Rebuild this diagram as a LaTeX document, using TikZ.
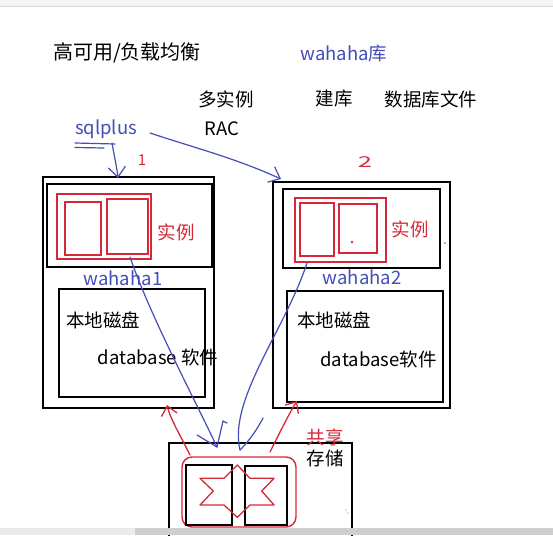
\documentclass[tikz,border=0pt]{standalone}
\usepackage{fontspec}
\setmainfont{Noto Sans CJK SC}
\usetikzlibrary{arrows.meta}
\definecolor{penblue}{RGB}{68,78,185}
\definecolor{penred}{RGB}{214,40,56}
\begin{document}
\begin{tikzpicture}[x=1pt,y=-1pt,
  box/.style={draw=black, line width=1.8pt, inner sep=0pt, outer sep=0pt},
  redbox/.style={draw=penred, line width=1.4pt, inner sep=0pt, outer sep=0pt},
  lbl/.style={inner sep=0pt, font=\fontsize{18.5}{22}\selectfont},
  bluelbl/.style={lbl, text=penblue},
  redlbl/.style={lbl, text=penred},
  blueline/.style={draw=penblue, line width=1.2pt, line cap=round, line join=round},
  redline/.style={draw=penred, line width=1.3pt, line cap=round, line join=round},
  barb/.style={-{Straight Barb[length=10pt,width=17pt,line width=1.2pt]}}
]
\useasboundingbox (0,0) rectangle (553,535);
\fill[white] (0,0) rectangle (553,535);
\fill[black!4] (0,0) rectangle (553,6);
\draw[black!15, line width=0.8pt] (0,6) -- (553,6);

% ---- top texts
\node[lbl, font=\fontsize{20}{24}\selectfont] (ha) at (127,53) {高可用/负载均衡};
\node[bluelbl] (lib) at (344,54) {wahaha库};
\node[lbl] (multi) at (226,99) {多实例};
\node[lbl] (build) at (334,99) {建库};
\node[lbl] (dbfile) at (431,99) {数据库文件};
\node[bluelbl] (sql) at (106,129) {sqlplus};
\node[lbl] (rac) at (222,129) {RAC};
\node[redlbl, font=\fontsize{15}{18}\selectfont] (one) at (142,160) {1};
\node[redlbl, font=\fontsize{15}{18}\selectfont, xscale=1.7, transform shape] (two) at (365,162) {2};

% ---- server 1
\node[box, minimum width=171pt, minimum height=231pt] (srv1) at (128.5,292.5) {};
\node[box, minimum width=165pt, minimum height=83pt] (top1) at (129.5,225.5) {};
\node[redbox, minimum width=94pt, minimum height=65pt] (inst1) at (104,226.5) {};
\node[redbox, minimum width=36pt, minimum height=53pt] (inst1a) at (83,228.5) {};
\node[redbox, minimum width=41pt, minimum height=55pt] (inst1b) at (127.5,226.5) {};
\node[redlbl] (inst1l) at (176,232) {实例};
\node[bluelbl] (wa1) at (123,278) {wahaha1};
\node[box, minimum width=146pt, minimum height=108pt] (disk1) at (132,343) {};
\node[lbl] (disk1l) at (103,320) {本地磁盘};
\node[lbl] (soft1) at (158,357) {database 软件};

% ---- server 2
\node[box, minimum width=177pt, minimum height=226pt] (srv2) at (361.5,295) {};
\node[box, minimum width=157pt, minimum height=79pt] (top2) at (361.5,228.5) {};
\node[redbox, minimum width=91pt, minimum height=64pt] (inst2) at (340.5,230) {};
\node[redbox, minimum width=34pt, minimum height=53pt] (inst2a) at (317,229.5) {};
\node[redbox, minimum width=38pt, minimum height=49pt] (inst2b) at (358,228.5) {};
\fill[penred] (352,242) circle (1.3pt);
\fill[penred] (445,243) circle (0.8pt);
\node[redlbl] (inst2l) at (410,229) {实例};
\node[bluelbl] (wa2) at (362,277) {wahaha2};
\node[box, minimum width=156pt, minimum height=111pt] (disk2) at (365,346.5) {};
\node[lbl] (disk2l) at (334,320) {本地磁盘};
\node[lbl] (soft2) at (378.5,359) {database软件};

% ---- storage
\node[box, minimum width=183pt, minimum height=94pt] (stor) at (260.5,490) {};
\node[redbox, rounded corners=10pt, minimum width=114pt, minimum height=70pt] (share) at (239,492) {};
\node[box, line width=1.5pt, minimum width=46pt, minimum height=60pt] (stA) at (209,495) {};
\node[box, line width=1.5pt, minimum width=42pt, minimum height=59pt] (stB) at (266,495.5) {};
\draw[redline] (237.3,465) -- (250,478.3) -- (274,478.3) -- (261.7,491) -- (274,505)
  -- (250,505) -- (237.3,517.3) -- (224,505) -- (200,505) -- (213.3,491)
  -- (200,478.3) -- (224,478.3) -- cycle;
\node[redlbl] (sharel) at (325,437) {共享};
\node[lbl] (storl) at (325,458) {存储};
\fill[black!50] (346,510) circle (0.6pt) (348,513) circle (0.6pt);

% ---- blue connectors
\coordinate (sqlfoot) at (112,143);
\coordinate (in1) at (118,178);
\coordinate (sqlright) at (150,133);
\coordinate (in2) at (281,179);
\draw[blueline] (75,143) -- (115,144);
\draw[blueline] (75,147.5) -- (104,148);
\draw[blueline, barb] (sqlfoot) .. controls (114,155) and (117,168) .. (in1);
\draw[blueline, barb] (sqlright) .. controls (195,148) and (235,158) .. (in2);

\coordinate (b1s) at (130,257);
\coordinate (b1t) at (217,447);
\draw[blueline] (b1s) .. controls (150,315) and (190,390) .. (b1t);
\draw[blueline] (197,435) -- (b1t) -- (223,421) -- (227,423);
\coordinate (b2s) at (307,263);
\coordinate (b2t) at (240,450);
\draw[blueline] (b2s) .. controls (285,330) and (228,400) .. (b2t);
\draw[blueline] (b2t) .. controls (250,440) and (258,428) .. (263,418);

% ---- red connectors
\coordinate (r1s) at (190,455);
\coordinate (r1t) at (167,405);
\coordinate (r2s) at (270,452);
\coordinate (r2t) at (297,401);
\draw[redline, -{Straight Barb[length=9pt,width=16pt,line width=1.3pt]}] (r1s) .. controls (180,435) and (170,418) .. (r1t);
\draw[redline, -{Straight Barb[length=9pt,width=16pt,line width=1.3pt]}] (r2s) .. controls (280,432) and (290,412) .. (r2t);

% ---- bottom bar
\fill[black!8] (0,528) rectangle (135,535);
\fill[black!19] (135,528) rectangle (553,535);
\end{tikzpicture}
\end{document}
